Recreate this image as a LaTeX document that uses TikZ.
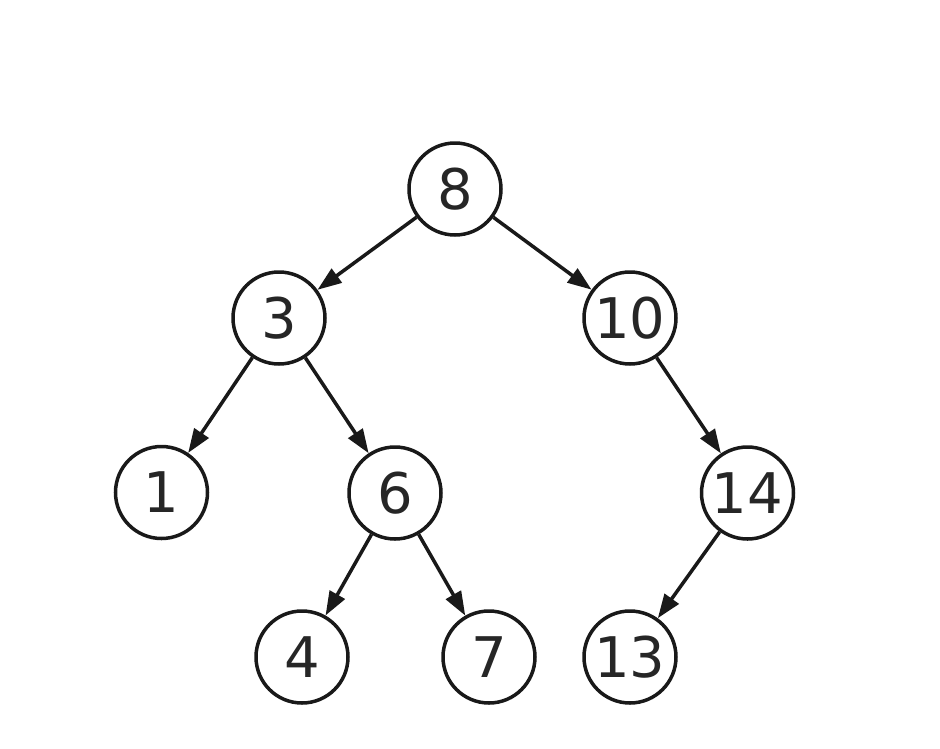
\documentclass[tikz,border=0pt]{standalone}
\usepackage{fontspec}
\setmainfont{DejaVu Sans}
\usetikzlibrary{arrows.meta}
\begin{document}
\begin{tikzpicture}[x=1pt,y=-1pt,
  treenode/.style={circle,draw=black!90,line width=3.5pt,minimum size=92pt,inner sep=0pt,
    font=\fontsize{56}{60}\selectfont,text=black!85},
  edge/.style={line width=3.5pt,draw=black!90,-{Triangle[length=24pt,width=17pt]}}]
\useasboundingbox (0,0) rectangle (940,748);
\node[treenode] (n8) at (455,189) {8};
\node[treenode] (n3) at (279,318) {3};
\node[treenode] (n10) at (630,318) {10};
\node[treenode] (n1) at (161.5,492.5) {1};
\node[treenode] (n6) at (395,493) {6};
\node[treenode] (n14) at (747.5,493) {14};
\node[treenode] (n4) at (302,657) {4};
\node[treenode] (n7) at (489,657) {7};
\node[treenode] (n13) at (630,657) {13};
\draw[edge] (n8) -- (n3);
\draw[edge] (n8) -- (n10);
\draw[edge] (n3) -- (n1);
\draw[edge] (n3) -- (n6);
\draw[edge] (n10) -- (n14);
\draw[edge] (n6) -- (n4);
\draw[edge] (n6) -- (n7);
\draw[edge] (n14) -- (n13);
\end{tikzpicture}
\end{document}
